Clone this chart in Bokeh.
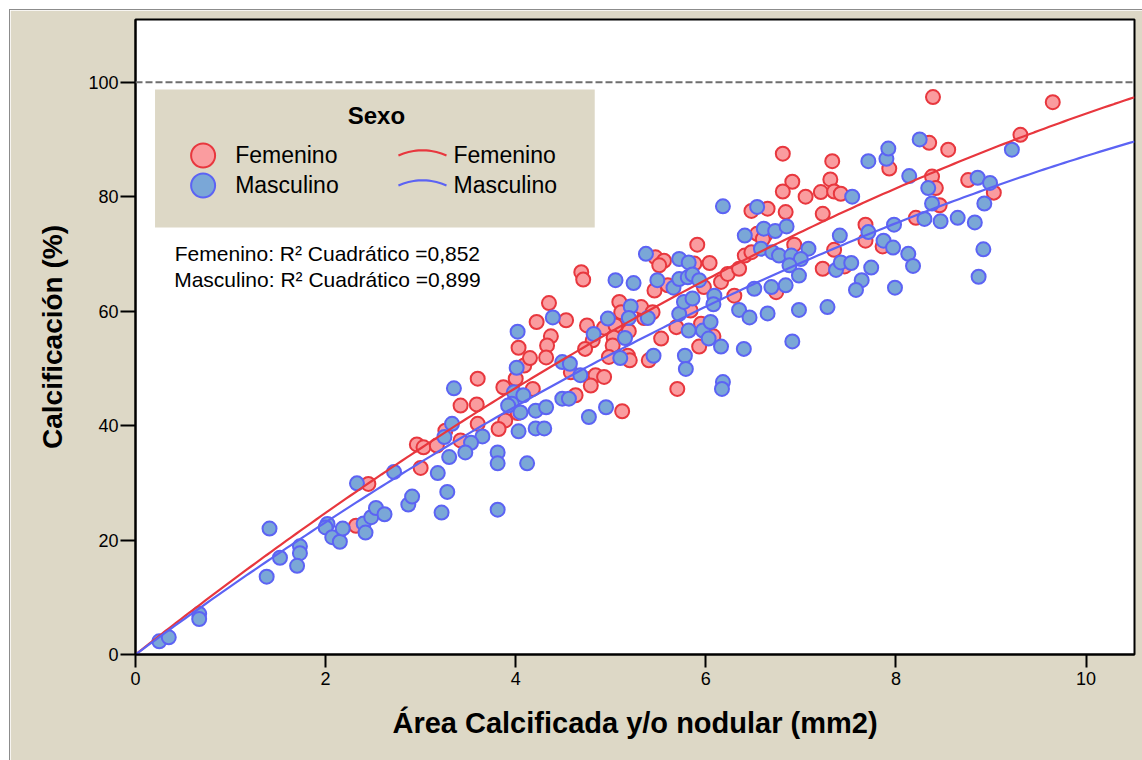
import numpy as np
from bokeh.plotting import figure
from bokeh.models import Span, Label, FixedTicker, Range1d
from bokeh.embed import file_html
from bokeh.resources import INLINE

# ---------------- data ----------------
fem_x = [2.32, 2.45, 2.96, 3.03, 3.17, 3.00, 3.42, 3.26,
         3.60, 3.59, 3.87, 4.00, 4.03, 4.09, 4.15, 4.22, 4.35, 4.37, 4.33, 4.32,
         4.18, 4.02, 3.89, 3.82, 3.60, 3.42, 4.58, 4.63, 4.79, 4.84, 4.93, 4.79,
         5.12, 4.53, 4.75, 4.81, 4.73, 4.69, 4.71, 4.93, 5.09, 5.11, 5.05, 5.19,
         5.03, 5.02, 5.18, 5.20, 4.98, 5.35, 5.32, 5.44, 5.47, 5.56, 5.51, 5.88,
         5.91, 6.04, 5.46, 5.60, 5.98, 6.16, 6.23, 6.30, 6.35, 6.41, 6.48, 6.54,
         5.84, 5.69, 5.95, 6.08, 5.93, 5.53, 5.40, 5.70,
         6.81, 7.33, 6.91, 6.81, 7.05, 7.21, 7.31, 7.35, 7.42, 7.93, 6.48, 6.65,
         6.84, 7.23, 6.62, 6.60, 6.93, 6.74, 7.23, 7.35, 7.46, 7.68, 7.68, 7.86,
         8.39, 9.65, 9.31, 8.35, 8.55, 8.38, 8.42, 8.76, 9.03, 8.46, 8.21]
fem_y = [22.5, 29.8, 36.7, 36.2, 36.5, 32.6, 43.5, 39.1,
         48.2, 43.7, 46.7, 48.2, 53.6, 50.5, 51.8, 58.1, 61.4, 55.6, 54.0, 51.9,
         46.4, 42.2, 40.9, 39.4, 40.3, 37.4, 49.3, 45.3, 48.2, 48.8, 48.5, 47.0,
         42.5, 58.4, 57.5, 54.9, 53.4, 66.8, 65.5, 57.1, 61.6, 59.8, 57.5, 56.5,
         55.4, 54.0, 52.2, 51.4, 52.0, 58.8, 60.7, 59.8, 69.4, 68.8, 68.0, 68.3,
         71.6, 68.4, 63.6, 64.5, 64.2, 65.1, 66.5, 62.7, 67.4, 69.7, 70.3, 73.5,
         60.1, 57.2, 57.8, 55.6, 53.8, 55.2, 51.4, 46.4,
         87.5, 86.2, 82.6, 80.9, 80.0, 80.8, 83.0, 80.9, 80.5, 84.9, 77.5, 77.9,
         77.3, 77.0, 73.2, 72.6, 71.6, 63.3, 67.4, 70.7, 67.8, 75.1, 72.3, 71.3,
         97.4, 96.5, 90.8, 89.4, 88.2, 83.5, 81.5, 82.9, 80.7, 78.5, 76.3]

masc_x = [0.25, 0.35, 0.67, 0.67, 1.41, 1.38, 1.52, 1.73, 1.73, 1.70, 2.02, 2.00,
          2.07, 2.15, 2.18, 2.40, 2.42, 2.48, 2.53, 2.62, 2.33, 2.87, 2.91, 3.22,
          3.28, 3.35, 3.33, 3.25, 3.30, 2.72, 3.18,
          4.01, 4.02, 4.39, 3.98, 3.96, 4.08, 3.92, 4.05, 4.21, 4.32, 4.03, 4.21,
          4.30, 3.65, 3.53, 3.47, 3.81, 3.81, 4.12, 4.49, 4.57, 4.68, 4.49, 4.56,
          4.77, 4.95, 4.82, 5.05, 5.24, 4.97, 5.21, 5.19, 5.15, 5.10, 5.39, 5.37,
          5.72, 5.82, 5.49, 5.66, 5.72, 5.81, 5.86, 5.93, 6.09, 6.08, 6.41, 6.51,
          6.35, 6.46, 5.72, 5.77, 5.86, 5.82, 5.97, 6.05, 6.03, 6.16, 6.40, 5.45,
          5.78, 5.79, 6.18, 6.17, 3.81,
          7.54, 7.71, 7.90, 7.92, 6.18, 6.54, 6.61, 6.73, 6.85, 6.58, 6.70, 6.77,
          7.08, 6.90, 7.00, 6.88, 6.84, 6.98, 6.69, 7.37, 7.42, 7.53, 7.41, 7.71,
          7.87, 7.98, 7.97, 7.74, 7.64, 7.58, 7.99, 7.28, 6.98, 6.91, 6.65,
          9.22, 8.25, 8.14, 8.34, 8.86, 8.99, 8.93, 8.38, 8.30, 8.47, 8.65, 8.83,
          8.92, 8.87, 8.13, 8.18]
masc_y = [2.3, 3.0, 7.1, 6.2, 22.0, 13.6, 16.9, 18.9, 17.7, 15.5, 22.8, 22.2,
          20.5, 19.7, 22.0, 22.9, 21.3, 24.0, 25.6, 24.5, 29.9, 26.2, 27.6, 24.8,
          28.4, 46.5, 40.3, 38.0, 34.5, 31.9, 31.7,
          50.1, 56.4, 58.9, 45.8, 43.8, 45.3, 43.5, 42.3, 42.6, 43.2, 39.0, 39.5,
          39.5, 38.1, 37.0, 35.3, 35.3, 33.4, 33.4, 51.1, 50.8, 48.8, 44.7, 44.7,
          41.5, 43.2, 56.0, 65.4, 64.9, 58.7, 60.8, 58.8, 55.3, 51.8, 58.8, 70.0,
          69.1, 68.5, 65.4, 64.1, 65.6, 65.9, 66.4, 65.4, 62.7, 61.2, 73.2, 63.9,
          60.2, 58.9, 59.5, 61.6, 62.2, 56.6, 56.6, 58.1, 55.2, 53.8, 53.4, 52.2,
          52.2, 49.9, 47.6, 46.4, 25.3,
          80.0, 86.2, 86.6, 88.4, 78.3, 78.2, 74.4, 74.0, 74.8, 70.9, 70.3, 69.7,
          70.9, 69.7, 69.1, 68.0, 64.5, 66.2, 64.2, 67.2, 68.5, 68.4, 73.2, 73.8,
          72.3, 75.1, 71.1, 67.6, 65.4, 63.7, 64.1, 60.7, 60.2, 54.7, 59.6,
          88.2, 90.0, 83.6, 81.5, 83.3, 82.4, 78.8, 78.8, 76.1, 75.7, 76.3, 75.5,
          70.8, 66.0, 70.0, 67.9]

# quadratic fit coefficients (c0, c1, c2)
fem_fit = [0.0, 13.10, -0.365]
masc_fit = [0.0, 12.26, -0.355]

x_ticks = [0, 2, 4, 6, 8, 10]
y_ticks = [0, 20, 40, 60, 80, 100]
ref_line = 100
series_names = ["Femenino", "Masculino"]
legend_title = "Sexo"
r2_texts = ["Femenino: R\u00b2  Cuadr\u00e1tico =0,852",
            "Masculino: R\u00b2  Cuadr\u00e1tico =0,899"]
x_title = "\u00c1rea Calcificada y/o nodular (mm2)"
y_title = "Calcificaci\u00f3n (%)"

# ---------------- style ----------------
BG = "#DDD8C6"
RED_FILL, RED_LINE = "#FA9C9F", "#E8373E"
BLUE_FILL, BLUE_LINE = "#7AA7D7", "#5C63F4"
FONT = "Liberation Sans"

X_MAX, Y_MAX = 10.51, 110.95

p = figure(width=1132, height=750, output_backend="svg", toolbar_location=None,
           x_range=Range1d(0, X_MAX), y_range=Range1d(0, Y_MAX))
p.styles = {"margin-left": "10px", "margin-top": "10px",
            "outline": "1px solid #8C8C8C"}
p.min_border = 0
p.min_border_left = 125
p.min_border_right = 8
p.min_border_top = 9
p.min_border_bottom = 106
p.border_fill_color = BG
p.background_fill_color = "white"
p.outline_line_color = "black"
p.outline_line_width = 2
p.xgrid.visible = False
p.ygrid.visible = False

for ax, ticks in ((p.xaxis, x_ticks), (p.yaxis, y_ticks)):
    ax.ticker = FixedTicker(ticks=ticks)
    ax.axis_line_color = "black"
    ax.axis_line_width = 2
    ax.major_tick_line_color = "black"
    ax.major_tick_line_width = 2
    ax.major_tick_in = 0
    ax.minor_tick_line_color = None
    ax.major_label_text_font = FONT
    ax.major_label_text_font_size = "18px"
    ax.major_label_text_color = "black"
    ax.axis_label_text_font = FONT
    ax.axis_label_text_font_style = "bold"
    ax.axis_label_text_color = "black"
p.yaxis.major_tick_out = 15
p.yaxis.major_label_standoff = 2
p.xaxis.major_tick_out = 13
p.xaxis.major_label_standoff = 4
p.xaxis.axis_label = x_title
p.xaxis.axis_label_text_font_size = "29px"
p.xaxis.axis_label_standoff = 19
p.yaxis.axis_label = y_title
p.yaxis.axis_label_text_font_size = "28px"
p.yaxis.axis_label_standoff = 17


def dx(px):
    # reference pixel -> data x
    return (px - 135.5) / 94.9


def dy(py):
    # reference pixel -> data y
    return (654.0 - py) / 5.723


# dashed reference line
p.add_layout(Span(location=ref_line, dimension="width", line_color="#6E6E6E",
                  line_width=2, line_dash="7 3"))

# scatter points
p.scatter(fem_x, fem_y, size=14, fill_color=RED_FILL, line_color=RED_LINE, line_width=2)
p.scatter(masc_x, masc_y, size=14, fill_color=BLUE_FILL, line_color=BLUE_LINE, line_width=2)

# fitted quadratic curves
xs = np.linspace(0, X_MAX, 200)
p.line(xs, np.polyval(fem_fit[::-1], xs), line_color=RED_LINE, line_width=2.2)
p.line(xs, np.polyval(masc_fit[::-1], xs), line_color=BLUE_LINE, line_width=2.2)

# legend box
p.quad(left=[dx(155)], right=[dx(594)], top=[dy(89)], bottom=[dy(227)],
       fill_color=BG, line_color=None)
p.add_layout(Label(x=dx(376), y=dy(115), text=legend_title, text_font=FONT,
                   text_font_style="bold", text_font_size="24px", text_color="black",
                   text_align="center", text_baseline="middle"))
p.scatter([dx(203)], [dy(155)], size=24, fill_color=RED_FILL, line_color=RED_LINE, line_width=2)
p.scatter([dx(203)], [dy(185)], size=24, fill_color=BLUE_FILL, line_color=BLUE_LINE, line_width=2)
t = np.linspace(-1, 1, 20)
for py, col in ((155, RED_LINE), (185, BLUE_LINE)):
    lx = dx(422) + t * (dx(446) - dx(422))
    ly = dy(py) + (1 - t ** 2) * 0.9
    p.line(lx, ly, line_color=col, line_width=2.2)
for i, name in enumerate(series_names):
    yy = dy(155 + 30 * i)
    p.add_layout(Label(x=dx(235), y=yy, text=name, text_font=FONT, text_font_size="23px",
                       text_color="black", text_baseline="middle", text_align="left"))
    p.add_layout(Label(x=dx(453), y=yy, text=name, text_font=FONT, text_font_size="23px",
                       text_color="black", text_baseline="middle", text_align="left"))

# R^2 annotations
for i, txt in enumerate(r2_texts):
    p.add_layout(Label(x=dx(330), y=dy(253 + 26 * i), text=txt, text_font=FONT,
                       text_font_size="21px", text_color="black",
                       text_align="center", text_baseline="middle"))

open("out.html", "w").write(file_html(p, INLINE))
